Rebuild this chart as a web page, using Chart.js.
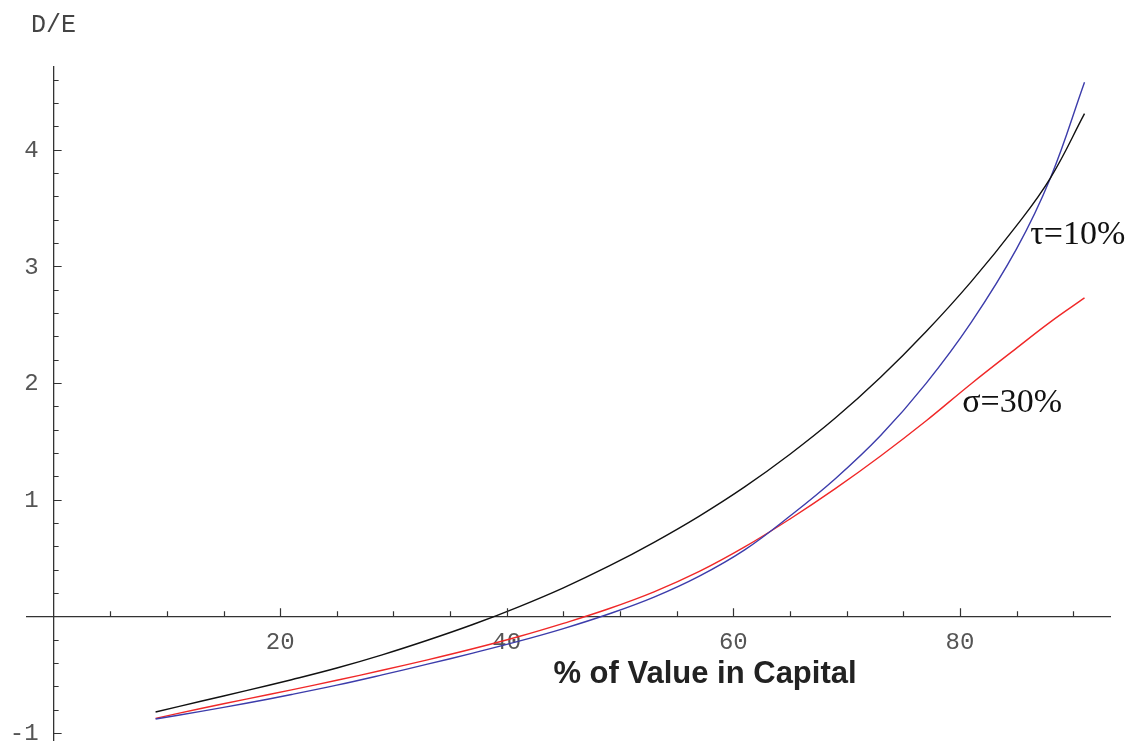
<!DOCTYPE html>
<html>
<head>
<meta charset="utf-8">
<script src="https://cdn.jsdelivr.net/npm/chart.js@4.4.1/dist/chart.umd.min.js"></script>
<style>
  html, body { margin: 0; padding: 0; background: #ffffff; }
  #wrap { width: 1130px; height: 743px; position: relative; }
</style>
</head>
<body>
<div id="wrap"><canvas id="c"></canvas></div>
<script>
// ---- data ----
const pctCapital = [9, 13, 17, 21, 25, 29, 33, 37, 41, 45, 49, 53, 57, 61, 65, 69, 73, 77, 81, 85, 88, 91];
const deBlack = [-0.82, -0.728, -0.637, -0.543, -0.443, -0.33, -0.205, -0.07, 0.08, 0.245, 0.43, 0.635, 0.86, 1.11, 1.39, 1.70, 2.05, 2.44, 2.87, 3.35, 3.76, 4.31];
const deBlue  = [-0.88, -0.815, -0.745, -0.67, -0.59, -0.502, -0.41, -0.315, -0.215, -0.105, 0.02, 0.165, 0.345, 0.57, 0.86, 1.18, 1.55, 1.995, 2.52, 3.15, 3.76, 4.58];
const deRed   = [-0.875, -0.79, -0.71, -0.63, -0.548, -0.462, -0.373, -0.278, -0.175, -0.06, 0.065, 0.21, 0.385, 0.595, 0.835, 1.095, 1.375, 1.675, 1.995, 2.30, 2.525, 2.73];
const xLabelTicks = [20, 40, 60, 80];
const yLabelTicks = [-1, 1, 2, 3, 4];
const xMinorStep = 5;
const yAxisName = 'D/E';
const xAxisName = '% of Value in Capital';
const tauLabel = 'τ=10%';
const sigmaLabel = 'σ=30%';

const pts = (ys) => pctCapital.map((x, i) => ({ x: x, y: ys[i] }));
const near = (a, b) => Math.abs(a - b) < 1e-6;

const decor = {
  id: 'decor',
  afterDraw(chart) {
    const { ctx, scales: { x, y } } = chart;
    const x0 = x.getPixelForValue(0);
    const y0 = y.getPixelForValue(0);
    ctx.save();
    // tick marks (drawn inside the axes, Mathematica style)
    ctx.strokeStyle = '#333';
    ctx.lineWidth = 1.2;
    ctx.beginPath();
    for (let v = xMinorStep; v < x.max; v += xMinorStep) {
      const px = Math.round(x.getPixelForValue(v)) + 0.5;
      const major = xLabelTicks.some(k => near(k, v));
      ctx.moveTo(px, y0);
      ctx.lineTo(px, y0 - (major ? 8 : 5));
    }
    y.ticks.forEach(t => {
      if (near(t.value, 0)) return;
      const py = Math.round(y.getPixelForValue(t.value)) + 0.5;
      const major = near(t.value, Math.round(t.value));
      ctx.moveTo(x0, py);
      ctx.lineTo(x0 + (major ? 8 : 5), py);
    });
    ctx.stroke();

    // y tick labels, placed with the y scale
    ctx.fillStyle = '#555';
    ctx.font = "24px 'Liberation Mono'";
    ctx.textAlign = 'right';
    ctx.textBaseline = 'middle';
    y.ticks.forEach(t => {
      if (!yLabelTicks.some(v => near(v, t.value))) return;
      ctx.fillText(String(Math.round(t.value)), x0 - 15, y.getPixelForValue(t.value) + 1);
    });

    // axis name D/E
    ctx.fillStyle = '#444';
    ctx.font = "25px 'Liberation Mono'";
    ctx.textAlign = 'center';
    ctx.textBaseline = 'alphabetic';
    ctx.fillText(yAxisName, x0, y.getPixelForValue(5.01));

    // x axis name
    ctx.fillStyle = '#222';
    ctx.font = "bold 31px 'Liberation Sans'";
    ctx.textAlign = 'center';
    ctx.fillText(xAxisName, x.getPixelForValue(57.5), y.getPixelForValue(-0.57));

    // curve labels
    ctx.fillStyle = '#111';
    ctx.font = "34px 'Liberation Serif'";
    ctx.textAlign = 'left';
    ctx.fillText(tauLabel, x.getPixelForValue(86.2), y.getPixelForValue(3.19));
    ctx.fillText(sigmaLabel, x.getPixelForValue(80.2), y.getPixelForValue(1.754));
    ctx.restore();
  }
};

new Chart(document.getElementById('c'), {
  type: 'line',
  data: {
    datasets: [
      { label: 'black', data: pts(deBlack), borderColor: '#111111', borderWidth: 1.4, pointRadius: 0, tension: 0.4, fill: false },
      { label: 'blue', data: pts(deBlue), borderColor: '#3c3cab', borderWidth: 1.4, pointRadius: 0, tension: 0.4, fill: false },
      { label: 'red', data: pts(deRed), borderColor: '#f02828', borderWidth: 1.4, pointRadius: 0, tension: 0.4, fill: false }
    ]
  },
  options: {
    responsive: true,
    maintainAspectRatio: false,
    animation: false,
    events: [],
    layout: { padding: { left: 27, right: 20, top: 67, bottom: 3 } },
    plugins: { legend: { display: false }, tooltip: { enabled: false }, title: { display: false } },
    scales: {
      x: {
        type: 'linear',
        position: { y: 0 },
        min: -2.35,
        max: 93.25,
        grid: { display: true, drawOnChartArea: false, drawTicks: false },
        border: { display: true, color: '#333', width: 1.3 },
        ticks: {
          stepSize: 5,
          includeBounds: false,
          autoSkip: false,
          maxRotation: 0,
          padding: 12,
          color: '#555',
          font: { family: "'Liberation Mono'", size: 24 },
          callback: (v) => xLabelTicks.some(k => near(k, v)) ? String(Math.round(v)) : null
        }
      },
      y: {
        type: 'linear',
        position: { x: 0 },
        min: -1.06,
        max: 4.71,
        grid: { display: true, drawOnChartArea: false, drawTicks: false },
        border: { display: true, color: '#333', width: 1.3 },
        ticks: {
          display: false,
          stepSize: 0.2,
          includeBounds: false,
          autoSkip: false
        }
      }
    }
  },
  plugins: [decor]
});
</script>
</body>
</html>
